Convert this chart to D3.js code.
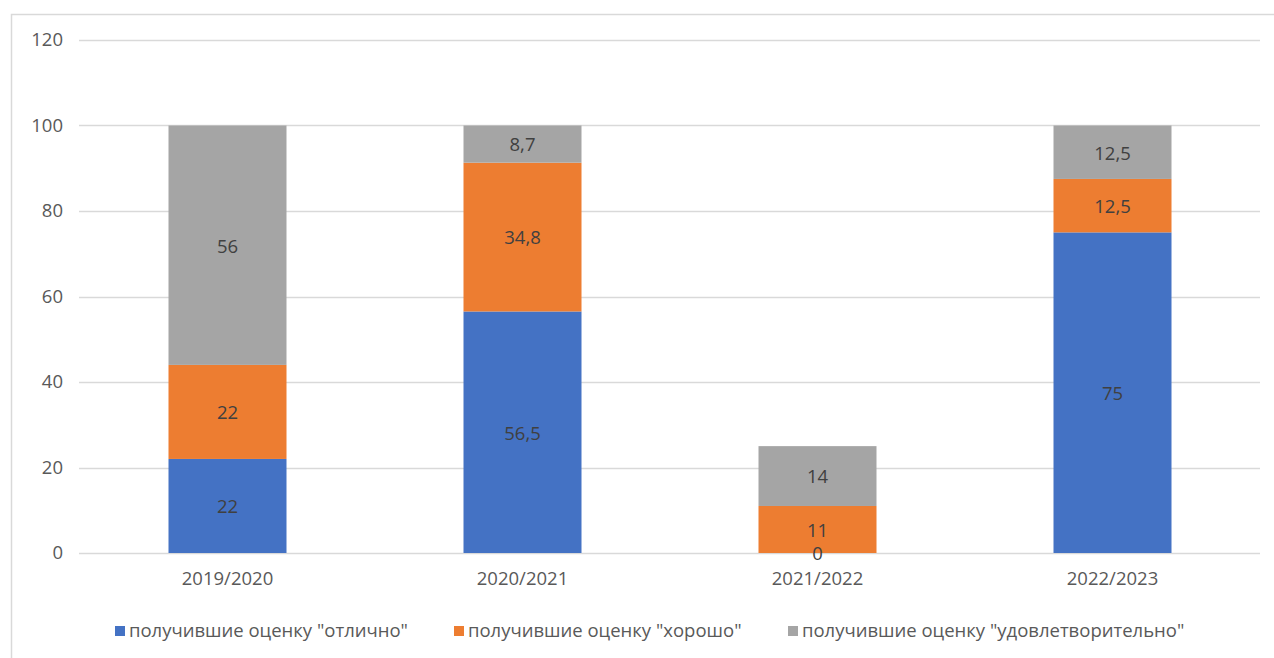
<!DOCTYPE html>
<html>
<head>
<meta charset="utf-8">
<script src="https://cdn.jsdelivr.net/npm/d3@7"></script>
<style>
  body { margin: 0; background: #fff; }
  svg { display: block; font-family: "Open Sans", "Noto Sans", sans-serif; }
</style>
</head>
<body>
<div id="chart"></div>
<script>
// Data
const years = ['2019/2020', '2020/2021', '2021/2022', '2022/2023']
const excellent = [22, 56.5, 0, 75]
const good = [22, 34.8, 11, 12.5]
const satisfactory = [56, 8.7, 14, 12.5]
const seriesNames = ['получившие оценку "отлично"', 'получившие оценку "хорошо"', 'получившие оценку "удовлетворительно"']
const yTicks = [0, 20, 40, 60, 80, 100, 120]

const colors = ['#4472c4', '#ed7d31', '#a5a5a5']

// Canvas
const width = 1274,
  height = 658,
  plotLeft = 80,
  plotRight = 1260,
  plotTop = 40,
  plotBottom = 553,
  fontSize = '18.5px'

let svg = d3.select('#chart')
  .append('svg')
  .attr('width', width)
  .attr('height', height)

// chart border (left + top only visible)
svg.append('path')
  .attr('d', `M11.5,${height} V14.5 H${width}`)
  .attr('fill', 'none')
  .attr('stroke', '#d9d9d9')
  .attr('stroke-width', 1.5)

const x = d3.scaleBand()
  .domain(years)
  .range([plotLeft, plotRight])
  .paddingInner(0.6)
  .paddingOuter(0.3)

const y = d3.scaleLinear()
  .domain([0, 120])
  .range([plotBottom, plotTop])

// gridlines
svg.append('g')
  .selectAll('line')
  .data(yTicks)
  .enter()
  .append('line')
  .attr('x1', plotLeft - 1)
  .attr('x2', plotRight)
  .attr('y1', d => Math.round(y(d)) + 0.5)
  .attr('y2', d => Math.round(y(d)) + 0.5)
  .attr('stroke', '#d9d9d9')
  .attr('stroke-width', 1.5)

// y axis labels
const yAxis = svg.append('g')
  .attr('transform', `translate(${plotLeft - 17}, 0)`)
  .call(d3.axisLeft(y).tickValues(yTicks).tickSize(0).tickPadding(0))
yAxis.select('.domain').remove()
yAxis.selectAll('text')
  .attr('fill', '#595959')
  .style('font-size', fontSize)
  .style('font-family', '"Open Sans", sans-serif')

// x axis labels
const xAxis = svg.append('g')
  .attr('transform', `translate(0, ${plotBottom + 19})`)
  .call(d3.axisBottom(x).tickSize(0).tickPadding(0))
xAxis.select('.domain').remove()
xAxis.selectAll('text')
  .attr('fill', '#595959')
  .attr('dy', '0.71em')
  .style('font-size', fontSize)
  .style('font-family', '"Open Sans", sans-serif')

// stack
const rows = years.map((yr, i) => ({
  year: yr, s0: excellent[i], s1: good[i], s2: satisfactory[i]
}))
const stacked = d3.stack().keys(['s0', 's1', 's2'])(rows)

const fmt = v => String(v).replace('.', ',')

const layers = svg.selectAll('g.layer')
  .data(stacked)
  .enter()
  .append('g')
  .attr('class', 'layer')
  .attr('fill', (d, i) => colors[i])

layers.selectAll('rect')
  .data(d => d)
  .enter()
  .append('rect')
  .attr('x', d => x(d.data.year))
  .attr('y', d => y(d[1]))
  .attr('width', x.bandwidth())
  .attr('height', d => y(d[0]) - y(d[1]))

// value labels on top of every bar
const labels = stacked.flatMap(s => s.map(p => ({ p: p, v: p[1] - p[0] })))
svg.append('g')
  .selectAll('text')
  .data(labels)
  .enter()
  .append('text')
  .attr('x', d => x(d.p.data.year) + x.bandwidth() / 2)
  .attr('y', d => (y(d.p[0]) + y(d.p[1])) / 2)
  .attr('dy', '0.4em')
  .attr('text-anchor', 'middle')
  .attr('fill', '#404040')
  .style('font-size', fontSize)
  .text(d => fmt(Math.round(d.v * 10) / 10))

// legend
const legendX = [115, 454, 788]
const legend = svg.append('g')
  .selectAll('g')
  .data(seriesNames)
  .enter()
  .append('g')
  .attr('transform', (d, i) => `translate(${legendX[i]}, 631)`)

legend.append('rect')
  .attr('x', 0)
  .attr('y', -5)
  .attr('width', 10)
  .attr('height', 10)
  .attr('fill', (d, i) => colors[i])

legend.append('text')
  .attr('x', 14)
  .attr('dy', '0.35em')
  .attr('fill', '#595959')
  .style('font-size', fontSize)
  .text(d => d)
</script>
</body>
</html>
